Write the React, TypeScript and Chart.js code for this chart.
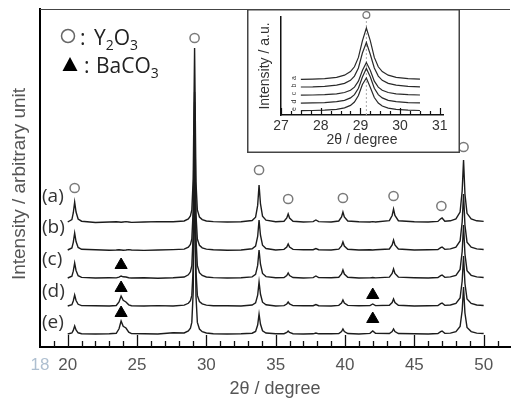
import React, { useEffect, useRef } from 'react';
import { Chart, registerables } from 'chart.js';

Chart.register(...registerables);

// ---------------- main pattern data ----------------
const TWO_THETA = [
  20.0, 20.3, 20.4, 20.5, 20.6, 20.75, 21.0, 22.0, 23.0,
  23.5, 23.7, 23.85, 24.0, 24.2, 24.4, 24.6, 25.5, 26.5, 27.6,
  28.4, 28.7, 28.85, 28.95, 29.05, 29.15, 29.25, 29.35, 29.5, 29.7, 30.0, 30.5,
  31.5, 32.5, 33.3, 33.55, 33.7, 33.8, 33.9, 34.05, 34.3, 35.0,
  35.6, 35.8, 35.9, 36.0, 36.25, 37.0, 37.7, 37.9, 38.1, 39.0,
  39.55, 39.75, 39.85, 39.95, 40.2, 41.0, 41.8, 42.0, 42.2,
  43.2, 43.4, 43.5, 43.6, 43.85, 45.0, 46.0, 46.7, 46.9, 47.0, 47.2,
  47.6, 48.0, 48.3, 48.45, 48.55, 48.65, 48.8, 49.1, 49.5, 50.0,
];

const TRACE_A = [
  0, 2.4, 9, 20, 10, 3, 0.8, -0.5, 0,
  0.3, 0, -0.3, 0, 0.4, 0, -0.4, 0, 0.4, 0.3,
  1, 3, 6, 12, 43, 174, 40, 12, 5, 2.4, 1, 0.4,
  0, 0.3, 1.5, 4.8, 16.6, 37, 18.5, 5.9, 1.8, 0.3,
  0.8, 4, 8, 4, 0.8, 0, 0.4, 2, 0.4, 0,
  1, 5, 10, 5, 1, 0.3, 0, 0.4, 0,
  1.3, 6.5, 13, 6.5, 1.3, 0.3, 0, 0.6, 3.2, 4, 0.8,
  1.2, 3.1, 9.9, 31, 62, 28, 8.7, 3.1, 1.2, 0.6,
];
const TRACE_B = [
  0, 2, 7.7, 17, 8.5, 2.6, 0.7, 0.3, -0.3,
  0, 0.3, 0, -0.3, 0, 0.4, 0, -0.4, 0, 0.4,
  0.9, 2.8, 5.5, 11, 40, 158, 36, 11, 4.7, 2.2, 0.9, 0.3,
  -0.3, 0, 1.2, 3.9, 13.5, 30, 15, 4.8, 1.5, 0,
  0.6, 3, 6, 3, 0.6, 0.3, 0.3, 1.5, 0.3, 0,
  0.8, 4, 8, 4, 0.8, 0, 0.3, 0, 0.3,
  1, 5, 10, 5, 1, 0, 0.3, 0.5, 2.4, 3, 0.6,
  1.1, 2.8, 9, 28, 56, 25, 7.8, 2.8, 1.1, 0.5,
];
const TRACE_C = [
  0, 1.8, 6.8, 15, 7.5, 2.3, 0.6, 0, 0.3,
  0.1, 0.8, 2, 1.2, 1, 0.3, 0, 0.3, -0.3, 0.3,
  1, 3.2, 6.2, 12.3, 44, 176, 40, 12.3, 5.3, 2.5, 1, 0.4,
  0, 0.3, 1.1, 3.6, 12.6, 28, 14, 4.5, 1.4, 0.3,
  0.5, 2.5, 5, 2.5, 0.5, 0, 0.4, 2, 0.4, 0.3,
  0.8, 4, 8, 4, 0.8, 0, 0.1, 0.5, 0.1,
  0.9, 4.5, 9, 4.5, 0.9, 0.3, 0, 0.5, 2.4, 3, 0.6,
  1.1, 2.7, 8.5, 26.5, 53, 24, 7.4, 2.7, 1.1, 0.5,
];
const TRACE_D = [
  0, 1.3, 5, 11, 5.5, 1.7, 0.4, 0.3, 0,
  0.5, 4, 10, 5.7, 4, 1.2, 0.3, 0, 0.4, 0,
  0.9, 2.7, 5.3, 10.6, 38, 151, 35, 10.6, 4.5, 2.1, 0.9, 0.3,
  0.3, 0, 1, 3.1, 10.8, 24, 12, 3.8, 1.2, 0,
  0.4, 2, 4, 2, 0.4, 0.3, 0.3, 1.5, 0.3, 0,
  0.6, 3, 6, 3, 0.6, 0.3, 0.4, 2, 0.4,
  0.7, 3.5, 7, 3.5, 0.7, 0, 0.3, 0.5, 2.4, 3, 0.6,
  1, 2.5, 8, 25, 50, 22.5, 7, 2.5, 1, 0.5,
];
const TRACE_E = [
  0, 1, 3.6, 8, 4, 1.2, 0.3, 0, 0.3,
  0.7, 5.2, 13, 7.7, 6, 1.8, 0.4, 0.3, 0, 1.2,
  1, 3, 5.8, 11.6, 42, 166, 38, 11.6, 5, 2.3, 1, 0.3,
  0, 0.3, 0.8, 2.6, 9, 20, 10, 3.2, 1, 0.3,
  0.3, 1.5, 3, 1.5, 0.3, 0, 0.2, 1, 0.2, 0.3,
  0.5, 2.5, 5, 2.5, 0.5, 0, 0.6, 3, 0.6,
  0.5, 2.5, 5, 2.5, 0.5, 0.3, 0, 0.5, 2.4, 3, 0.6,
  0.9, 2.4, 7.5, 23.5, 47, 21, 6.6, 2.4, 0.9, 0.5,
];
const TRACES = [TRACE_A, TRACE_B, TRACE_C, TRACE_D, TRACE_E];
const TRACE_NAMES = ['(a)', '(b)', '(c)', '(d)', '(e)'];
const TRACE_OFFSETS = [125, 97, 69, 41, 13];

const Y2O3_X = [20.5, 29.15, 33.8, 35.9, 39.85, 43.5, 46.95, 48.55];
const Y2O3_Y = [159, 309, 177, 148, 149, 151, 141, 200];
const BACO3_X = [23.85, 23.85, 23.85, 42.0, 42.0];
const BACO3_Y = [82, 59, 34, 52, 28];

const X_TICKS = [18, 20, 25, 30, 35, 40, 45, 50];

// ---------------- inset data ----------------
const INSET_X = [27.5, 27.8, 28.1, 28.4, 28.6, 28.75, 28.85, 28.95, 29.05, 29.15, 29.25, 29.35, 29.45, 29.55, 29.7, 29.9, 30.2, 30.5];
const INSET_A = [0.6, 0.9, 1.4, 2.7, 4.8, 8.4, 13.2, 22.6, 39.2, 52, 39.2, 22.6, 13.2, 8.4, 4.8, 2.7, 1.4, 0.9];
const INSET_B = [0.5, 0.7, 1.2, 2.3, 4.1, 7.2, 11.4, 19.5, 34.5, 45, 33, 19.5, 11.4, 7.2, 4.1, 2.3, 1.2, 0.7];
const INSET_C = [0.4, 0.5, 0.9, 1.7, 3.0, 5.3, 8.4, 14.3, 24.9, 33, 24.9, 14.3, 8.4, 5.3, 3.0, 1.7, 0.9, 0.5];
const INSET_D = [0.4, 0.6, 0.9, 1.8, 3.2, 5.6, 8.9, 15.2, 26.4, 35, 26.4, 15.2, 8.9, 5.6, 3.2, 1.8, 0.9, 0.6];
const INSET_E = [0.4, 0.5, 0.9, 1.7, 3.1, 5.6, 9.0, 15.5, 26.5, 33, 23.5, 13.5, 8.0, 5.0, 2.9, 1.6, 0.9, 0.5];
const INSET_TRACES = [INSET_A, INSET_B, INSET_C, INSET_D, INSET_E];
const INSET_OFFSETS = [35, 27.5, 19.5, 11.5, 4];
const INSET_LETTERS = ['a', 'b', 'c', 'd', 'e'];
const INSET_TICKS = [27, 28, 29, 30, 31];
const INSET_PEAK = 29.15;

// ---------------- layout constants ----------------
const LABEL_PIX_Y = [197, 228, 260, 292, 323];
const SANS = '"Liberation Sans", Arial, sans-serif';
const OPEN = '"Open Sans", "Noto Sans", sans-serif';

function mainConfig(): any {
  const traceSets = TRACES.map((arr, k) => ({
    label: TRACE_NAMES[k],
    data: TWO_THETA.map((x, i) => ({ x, y: TRACE_OFFSETS[k] + arr[i] })),
    borderColor: '#1c1c1c',
    borderWidth: 1.4,
    pointRadius: 0,
    fill: false,
    tension: 0,
  }));
  const circles = {
    label: 'Y2O3',
    data: Y2O3_X.map((x, i) => ({ x, y: Y2O3_Y[i] })),
    showLine: false,
    pointStyle: 'circle',
    pointRadius: 4.6,
    pointBorderWidth: 1.5,
    pointBorderColor: '#7a7a7a',
    pointBackgroundColor: '#ffffff',
  };
  const triangles = {
    label: 'BaCO3',
    data: BACO3_X.map((x, i) => ({ x, y: BACO3_Y[i] })),
    showLine: false,
    pointStyle: 'triangle',
    pointRadius: 7,
    pointBorderWidth: 1,
    pointBorderColor: '#000',
    pointBackgroundColor: '#000',
  };

  const decor = {
    id: 'mainDecor',
    afterDatasetsDraw(chart: any) {
      const { ctx, chartArea: a, scales } = chart;
      const x = scales.x;
      ctx.save();
      ctx.strokeStyle = '#111';
      ctx.lineWidth = 1.3;
      for (let v = 19; v <= 51; v++) {
        const px = Math.round(x.getPixelForValue(v)) + 0.5;
        const len = v % 5 === 0 ? 12 : 6;
        ctx.beginPath();
        ctx.moveTo(px, a.bottom);
        ctx.lineTo(px, a.bottom - len);
        ctx.stroke();
      }
      ctx.strokeStyle = '#444';
      ctx.lineWidth = 1;
      ctx.beginPath();
      ctx.moveTo(a.left, a.top + 0.5);
      ctx.lineTo(a.right, a.top + 0.5);
      ctx.stroke();
      ctx.restore();
    },
    afterDraw(chart: any) {
      const { ctx } = chart;
      ctx.save();
      // trace labels
      ctx.fillStyle = '#333';
      ctx.font = `19px ${OPEN}`;
      ctx.textAlign = 'left';
      ctx.textBaseline = 'middle';
      TRACE_NAMES.forEach((n, k) => ctx.fillText(n, 42, LABEL_PIX_Y[k]));

      // y title
      ctx.save();
      ctx.translate(20, 184);
      ctx.rotate(-Math.PI / 2);
      ctx.font = `19px ${SANS}`;
      ctx.fillStyle = '#555';
      ctx.textAlign = 'center';
      ctx.textBaseline = 'middle';
      ctx.fillText('Intensity / arbitrary unit', 0, 0);
      ctx.restore();

      // legend
      ctx.textBaseline = 'alphabetic';
      ctx.textAlign = 'left';
      ctx.strokeStyle = '#666';
      ctx.lineWidth = 1.5;
      ctx.beginPath();
      ctx.arc(68, 36, 6.5, 0, Math.PI * 2);
      ctx.stroke();
      const big = `21px ${OPEN}`;
      const small = `14px ${OPEN}`;
      const drawFormula = (parts: [string, boolean][], x0: number, base: number) => {
        let xx = x0;
        parts.forEach(([t, sub]) => {
          ctx.font = sub ? small : big;
          ctx.fillText(t, xx, sub ? base + 5 : base);
          xx += ctx.measureText(t).width;
        });
      };
      ctx.fillStyle = '#222';
      ctx.font = big;
      ctx.fillText(':', 80, 45);
      drawFormula([['Y', false], ['2', true], ['O', false], ['3', true]], 94, 45);

      ctx.fillStyle = '#000';
      ctx.beginPath();
      ctx.moveTo(70, 57);
      ctx.lineTo(77.5, 71);
      ctx.lineTo(62.5, 71);
      ctx.closePath();
      ctx.fill();
      ctx.fillStyle = '#222';
      ctx.font = big;
      ctx.fillText(':', 84, 73);
      drawFormula([['BaCO', false], ['3', true]], 96, 73);
      ctx.restore();
    },
  };

  return {
    type: 'line',
    data: { datasets: [circles, triangles, ...traceSets] },
    options: {
      animation: false,
      responsive: false,
      maintainAspectRatio: false,
      layout: { padding: { top: 9, right: 0, left: 0, bottom: 0 } },
      plugins: { legend: { display: false }, tooltip: { enabled: false } },
      scales: {
        x: {
          type: 'linear',
          min: 18,
          max: 51.9,
          afterBuildTicks: (s: any) => {
            s.ticks = X_TICKS.map((v) => ({ value: v }));
          },
          ticks: {
            autoSkip: false,
            maxRotation: 0,
            padding: 8,
            font: { family: SANS, size: 17 },
            color: (c: any) => (c.tick && c.tick.value === 18 ? '#aebfd0' : '#555'),
            callback: (v: any) => String(v),
          },
          grid: { display: false, drawTicks: false },
          border: { display: true, color: '#000', width: 2 },
          title: {
            display: true,
            text: '2θ / degree',
            color: '#555',
            font: { family: SANS, size: 18 },
            padding: { top: 0, bottom: 0 },
          },
          afterFit: (s: any) => {
            s.height = 53;
          },
        },
        y: {
          type: 'linear',
          min: 0,
          max: 338,
          ticks: { display: false },
          grid: { display: false, drawTicks: false },
          border: { display: true, color: '#000', width: 2 },
          afterFit: (s: any) => {
            s.width = 40;
          },
        },
      },
    },
    plugins: [decor],
  };
}

function insetConfig(): any {
  const traceSets = INSET_TRACES.map((arr, k) => ({
    label: INSET_LETTERS[k],
    data: INSET_X.map((x, i) => ({ x, y: INSET_OFFSETS[k] + arr[i] })),
    borderColor: '#2a2a2a',
    borderWidth: 1.2,
    pointRadius: 0,
    fill: false,
    tension: 0,
  }));
  const refLine = {
    label: 'ref',
    data: [
      { x: INSET_PEAK, y: 0 },
      { x: INSET_PEAK, y: 98 },
    ],
    borderColor: '#aaa',
    borderWidth: 1,
    borderDash: [2, 2],
    pointRadius: 0,
  };
  const marker = {
    label: 'Y2O3',
    data: [{ x: INSET_PEAK, y: 100 }],
    showLine: false,
    clip: false,
    pointStyle: 'circle',
    pointRadius: 3.4,
    pointBorderWidth: 1.3,
    pointBorderColor: '#777',
    pointBackgroundColor: '#fff',
  };
  const decor = {
    id: 'insetDecor',
    beforeDraw(chart: any) {
      const { ctx, width, height } = chart;
      ctx.save();
      ctx.fillStyle = '#fff';
      ctx.fillRect(0, 0, width, height);
      ctx.restore();
    },
    afterDatasetsDraw(chart: any) {
      const { ctx, chartArea: a, scales } = chart;
      const x = scales.x;
      ctx.save();
      ctx.strokeStyle = '#111';
      ctx.lineWidth = 1.2;
      for (let i = 0; i <= 16; i++) {
        const v = 27 + i * 0.25;
        const px = Math.round(x.getPixelForValue(v)) + 0.5;
        const len = i % 4 === 0 ? 7 : 4;
        ctx.beginPath();
        ctx.moveTo(px, a.bottom);
        ctx.lineTo(px, a.bottom - len);
        ctx.stroke();
      }
      // tiny trace letters
      ctx.fillStyle = '#333';
      ctx.font = `7px ${SANS}`;
      ctx.textAlign = 'center';
      ctx.textBaseline = 'middle';
      const y = scales.y;
      INSET_LETTERS.forEach((t, k) => {
        ctx.save();
        ctx.translate(47, y.getPixelForValue(INSET_OFFSETS[k]) - 2);
        ctx.rotate(-Math.PI / 2);
        ctx.fillText(t, 0, 0);
        ctx.restore();
      });
      ctx.restore();
    },
    afterDraw(chart: any) {
      const { ctx, width, height } = chart;
      ctx.save();
      ctx.strokeStyle = '#444';
      ctx.lineWidth = 1.5;
      ctx.strokeRect(0.75, 0.75, width - 1.5, height - 1.5);
      ctx.restore();
    },
  };
  return {
    type: 'line',
    data: { datasets: [marker, ...traceSets, refLine] },
    options: {
      animation: false,
      responsive: false,
      maintainAspectRatio: false,
      layout: { padding: { top: 8, right: 17, left: 0, bottom: 0 } },
      plugins: { legend: { display: false }, tooltip: { enabled: false } },
      scales: {
        x: {
          type: 'linear',
          min: 27,
          max: 31.08,
          afterBuildTicks: (s: any) => {
            s.ticks = INSET_TICKS.map((v) => ({ value: v }));
          },
          ticks: {
            autoSkip: false,
            maxRotation: 0,
            padding: 3,
            font: { family: SANS, size: 14 },
            color: '#333',
            callback: (v: any) => String(v),
          },
          grid: { display: false, drawTicks: false },
          border: { display: true, color: '#111', width: 1.5 },
          title: {
            display: true,
            text: '2θ / degree',
            color: '#333',
            font: { family: SANS, size: 14 },
            padding: { top: 0, bottom: 4.6 },
          },
          afterFit: (s: any) => {
            s.height = 38;
          },
        },
        y: {
          type: 'linear',
          min: 0,
          max: 98,
          ticks: { display: false },
          grid: { display: false, drawTicks: false },
          border: { display: true, color: '#111', width: 1.5 },
          title: {
            display: true,
            text: 'Intensity / a.u.',
            color: '#333',
            font: { family: SANS, size: 14 },
            padding: { top: 9.6, bottom: 0 },
          },
          afterFit: (s: any) => {
            s.width = 34;
          },
        },
      },
    },
    plugins: [decor],
  };
}

export default function App() {
  const mainRef = useRef<HTMLCanvasElement>(null);
  const insetRef = useRef<HTMLCanvasElement>(null);

  useEffect(() => {
    let charts: Chart[] = [];
    let cancelled = false;
    const build = () => {
      if (cancelled || !mainRef.current || !insetRef.current) return;
      charts.push(new Chart(mainRef.current, mainConfig()));
      charts.push(new Chart(insetRef.current, insetConfig()));
    };
    const fontsApi: any = (document as any).fonts;
    if (fontsApi && fontsApi.load) {
      Promise.all([
        fontsApi.load(`21px "Open Sans"`),
        fontsApi.load(`18px "Liberation Sans"`),
      ]).then(build, build);
    } else {
      build();
    }
    return () => {
      cancelled = true;
      charts.forEach((c) => c.destroy());
      charts = [];
    };
  }, []);

  return (
    <div style={{ position: 'absolute', left: 0, top: 0, width: 518, height: 400, background: '#fff', overflow: 'hidden' }}>
      <canvas ref={mainRef} width={518} height={400} style={{ position: 'absolute', left: 0, top: 0, width: 518, height: 400 }} />
      <canvas ref={insetRef} width={213} height={144} style={{ position: 'absolute', left: 247, top: 9, width: 213, height: 144 }} />
    </div>
  );
}
